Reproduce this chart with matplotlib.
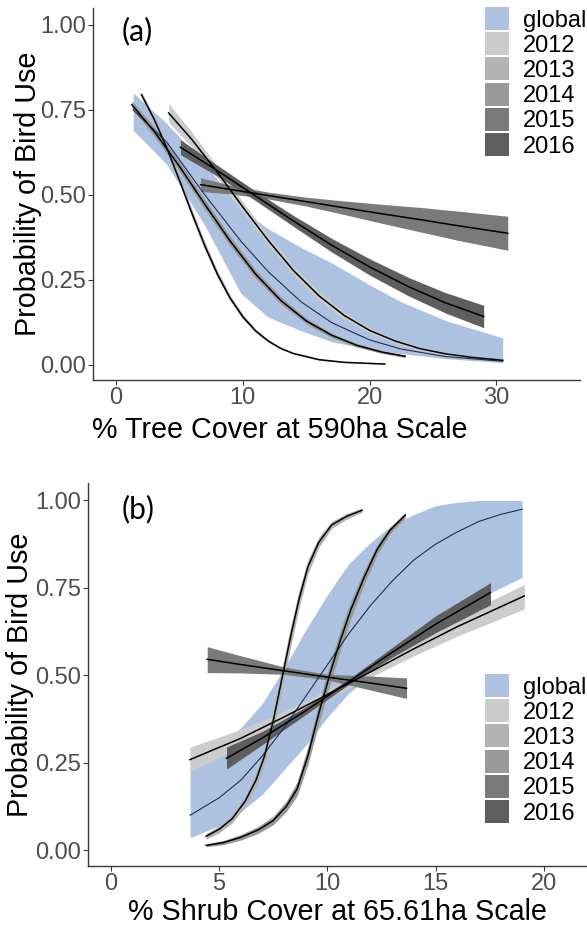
import matplotlib
matplotlib.use("Agg")
import matplotlib.pyplot as plt
from matplotlib.patches import Patch
from matplotlib.ticker import FormatStrFormatter

plt.rcParams["font.family"] = ["Liberation Sans", "DejaVu Sans"]

GROUPS = ["global", "2012", "2013", "2014", "2015", "2016"]
FILLS = {"global": "#adc2e1", "2012": "#cccccc", "2013": "#b3b3b3",
         "2014": "#999999", "2015": "#7a7a7a", "2016": "#5e5e5e"}

# ---- (a) % tree cover at 590 ha ----
tree_global_x = [1.35, 4, 7, 9.84, 12, 14.6, 17, 20, 22.5, 26, 30.5]
tree_global_fit = [0.750, 0.655, 0.500, 0.364, 0.274, 0.185, 0.124, 0.073, 0.046, 0.024, 0.010]
tree_global_lo = [0.69, 0.59, 0.41, 0.21, 0.14, 0.10, 0.068, 0.045, 0.033, 0.018, 0.006]
tree_global_hi = [0.80, 0.71, 0.59, 0.46, 0.40, 0.345, 0.30, 0.235, 0.185, 0.13, 0.079]

tree_2012_x = [4.15, 6, 8, 10, 12, 14, 16, 18, 20, 22, 24, 26, 28, 30.5]
tree_2012_fit = [0.741, 0.662, 0.566, 0.464, 0.366, 0.277, 0.203, 0.145, 0.101, 0.070, 0.047, 0.032, 0.022, 0.013]
tree_2012_lo = [0.713, 0.640, 0.549, 0.449, 0.352, 0.264, 0.191, 0.135, 0.093, 0.064, 0.042, 0.028, 0.019, 0.010]
tree_2012_hi = [0.769, 0.684, 0.583, 0.479, 0.380, 0.290, 0.215, 0.155, 0.109, 0.076, 0.052, 0.036, 0.025, 0.016]

tree_2013_x = [2.0, 3, 4, 5, 6, 7, 8, 9, 10, 11, 12, 13, 14, 16, 18, 21.2]
tree_2013_fit = [0.795, 0.723, 0.638, 0.543, 0.444, 0.350, 0.266, 0.196, 0.141, 0.100, 0.070, 0.048, 0.033, 0.015, 0.007, 0.002]
tree_2013_lo = [0.787, 0.713, 0.626, 0.531, 0.432, 0.338, 0.256, 0.188, 0.134, 0.095, 0.066, 0.045, 0.031, 0.013, 0.006, 0.001]
tree_2013_hi = [0.803, 0.733, 0.650, 0.555, 0.456, 0.362, 0.276, 0.204, 0.148, 0.105, 0.074, 0.051, 0.035, 0.017, 0.008, 0.003]

tree_2014_x = [1.25, 3, 5, 7, 9, 11, 13, 15, 17, 19, 21, 22.8]
tree_2014_fit = [0.765, 0.687, 0.584, 0.472, 0.364, 0.267, 0.189, 0.129, 0.087, 0.057, 0.037, 0.025]
tree_2014_lo = [0.753, 0.673, 0.569, 0.457, 0.350, 0.255, 0.179, 0.121, 0.080, 0.052, 0.033, 0.021]
tree_2014_hi = [0.777, 0.701, 0.599, 0.487, 0.378, 0.279, 0.199, 0.137, 0.093, 0.062, 0.041, 0.029]

tree_2015_x = [6.67, 9, 12, 15, 18, 21, 24, 27, 30.9]
tree_2015_fit = [0.530, 0.516, 0.498, 0.480, 0.462, 0.444, 0.427, 0.409, 0.387]
tree_2015_lo = [0.510, 0.503, 0.488, 0.467, 0.442, 0.416, 0.391, 0.366, 0.337]
tree_2015_hi = [0.550, 0.529, 0.508, 0.493, 0.482, 0.472, 0.463, 0.452, 0.437]

tree_2016_x = [5.08, 8, 11, 14, 17, 20, 23, 26, 29.0]
tree_2016_fit = [0.640, 0.571, 0.497, 0.423, 0.352, 0.288, 0.231, 0.182, 0.142]
tree_2016_lo = [0.618, 0.555, 0.483, 0.407, 0.332, 0.264, 0.204, 0.152, 0.109]
tree_2016_hi = [0.662, 0.587, 0.511, 0.439, 0.372, 0.312, 0.258, 0.212, 0.175]

# ---- (b) % shrub cover at 65.61 ha ----
shrub_global_x = [3.66, 5, 6, 7, 8, 9, 10, 11, 12, 13, 14, 15, 16, 17, 18, 19]
shrub_global_fit = [0.10, 0.15, 0.20, 0.27, 0.35, 0.44, 0.53, 0.62, 0.70, 0.77, 0.83, 0.875, 0.91, 0.94, 0.96, 0.975]
shrub_global_lo = [0.036, 0.07, 0.11, 0.16, 0.23, 0.30, 0.38, 0.45, 0.50, 0.56, 0.61, 0.66, 0.69, 0.72, 0.75, 0.78]
shrub_global_hi = [0.24, 0.30, 0.35, 0.42, 0.52, 0.63, 0.73, 0.82, 0.88, 0.93, 0.96, 0.985, 0.995, 1.0, 1.0, 1.0]

shrub_2012_x = [3.65, 6, 8, 10, 12, 14, 16, 19.1]
shrub_2012_fit = [0.259, 0.320, 0.381, 0.445, 0.510, 0.576, 0.639, 0.727]
shrub_2012_lo = [0.225, 0.295, 0.365, 0.432, 0.495, 0.556, 0.612, 0.690]
shrub_2012_hi = [0.295, 0.345, 0.397, 0.458, 0.525, 0.596, 0.666, 0.760]

shrub_2013_x = [4.4, 5.0, 5.6, 6.2, 6.7, 7.1, 7.5, 7.9, 8.3, 8.7, 9.1, 9.6, 10.2, 10.9, 11.6]
shrub_2013_fit = [0.040, 0.060, 0.090, 0.140, 0.200, 0.270, 0.370, 0.490, 0.610, 0.720, 0.810, 0.880, 0.930, 0.955, 0.972]
shrub_2013_lo = [0.032, 0.050, 0.078, 0.125, 0.180, 0.245, 0.340, 0.460, 0.580, 0.695, 0.790, 0.865, 0.920, 0.947, 0.966]
shrub_2013_hi = [0.048, 0.070, 0.102, 0.155, 0.220, 0.295, 0.400, 0.520, 0.640, 0.745, 0.830, 0.895, 0.940, 0.963, 0.978]

shrub_2014_x = [4.4, 5.2, 6.0, 6.8, 7.5, 8.1, 8.6, 9.1, 9.6, 10.1, 10.6, 11.1, 11.7, 12.3, 12.9, 13.6]
shrub_2014_fit = [0.014, 0.022, 0.037, 0.058, 0.085, 0.125, 0.175, 0.270, 0.390, 0.500, 0.600, 0.690, 0.780, 0.860, 0.915, 0.958]
shrub_2014_lo = [0.010, 0.016, 0.029, 0.048, 0.073, 0.110, 0.155, 0.245, 0.360, 0.470, 0.570, 0.665, 0.760, 0.845, 0.905, 0.950]
shrub_2014_hi = [0.018, 0.028, 0.045, 0.068, 0.097, 0.140, 0.195, 0.295, 0.420, 0.530, 0.630, 0.715, 0.800, 0.875, 0.925, 0.966]

shrub_2015_x = [4.45, 6, 8, 10, 12, 13.66]
shrub_2015_fit = [0.546, 0.531, 0.513, 0.495, 0.478, 0.463]
shrub_2015_lo = [0.508, 0.507, 0.503, 0.487, 0.458, 0.434]
shrub_2015_hi = [0.582, 0.556, 0.524, 0.503, 0.498, 0.493]

shrub_2016_x = [5.34, 7, 9, 11, 13, 15, 17.54]
shrub_2016_fit = [0.263, 0.321, 0.399, 0.482, 0.566, 0.646, 0.737]
shrub_2016_lo = [0.232, 0.302, 0.388, 0.474, 0.552, 0.622, 0.702]
shrub_2016_hi = [0.295, 0.340, 0.410, 0.490, 0.580, 0.670, 0.765]

tree_curves = {
    "global": (tree_global_x, tree_global_fit, tree_global_lo, tree_global_hi),
    "2012": (tree_2012_x, tree_2012_fit, tree_2012_lo, tree_2012_hi),
    "2013": (tree_2013_x, tree_2013_fit, tree_2013_lo, tree_2013_hi),
    "2014": (tree_2014_x, tree_2014_fit, tree_2014_lo, tree_2014_hi),
    "2015": (tree_2015_x, tree_2015_fit, tree_2015_lo, tree_2015_hi),
    "2016": (tree_2016_x, tree_2016_fit, tree_2016_lo, tree_2016_hi),
}
shrub_curves = {
    "global": (shrub_global_x, shrub_global_fit, shrub_global_lo, shrub_global_hi),
    "2012": (shrub_2012_x, shrub_2012_fit, shrub_2012_lo, shrub_2012_hi),
    "2013": (shrub_2013_x, shrub_2013_fit, shrub_2013_lo, shrub_2013_hi),
    "2014": (shrub_2014_x, shrub_2014_fit, shrub_2014_lo, shrub_2014_hi),
    "2015": (shrub_2015_x, shrub_2015_fit, shrub_2015_lo, shrub_2015_hi),
    "2016": (shrub_2016_x, shrub_2016_fit, shrub_2016_lo, shrub_2016_hi),
}

AXIS_COL = "#3a3a3a"
TICK_TXT = "#4d4d4d"


def draw_panel(ax, curves, xticks, xlim, xlabel, tag, leg_anchor, fig):
    for g in GROUPS:
        x, fit, lo, hi = curves[g]
        ax.fill_between(x, lo, hi, color=FILLS[g], lw=0, zorder=1 if g == "global" else 2)
    for g in GROUPS:
        x, fit, lo, hi = curves[g]
        if g == "global":
            ax.plot(x, fit, color="#1f3050", lw=0.8, zorder=3)
        else:
            ax.plot(x, fit, color="black", lw=1.1, zorder=3)

    ax.set_xlim(*xlim)
    ax.set_ylim(-0.045, 1.05)
    ax.set_xticks(xticks)
    ax.set_yticks([0, 0.25, 0.5, 0.75, 1.0])
    ax.yaxis.set_major_formatter(FormatStrFormatter("%.2f"))
    for s in ("top", "right"):
        ax.spines[s].set_visible(False)
    for s in ("left", "bottom"):
        ax.spines[s].set_color(AXIS_COL)
        ax.spines[s].set_linewidth(1.0)
    ax.tick_params(length=3.6, width=0.8, color=AXIS_COL, labelcolor=TICK_TXT,
                   labelsize=17, pad=1.5)
    ax.set_ylabel("Probability of Bird Use", fontsize=20.7, color="black")
    ax.set_xlabel(xlabel, fontsize=20.7, color="black")

    ax.text(tag[1], tag[2], tag[0], transform=ax.transAxes, ha="left", va="center",
            fontsize=21.5, family="Lato")

    handles = [Patch(facecolor=FILLS[g], edgecolor="none", label=g) for g in GROUPS]
    ax.legend(handles=handles, loc="upper left", bbox_to_anchor=leg_anchor,
              bbox_transform=fig.transFigure, frameon=False, fontsize=17,
              handlelength=1.0, handleheight=1.12, handletextpad=0.6,
              labelspacing=0.03, borderpad=0, borderaxespad=0)


W, H = 587, 925
fig = plt.figure(figsize=(W / 100, H / 100), dpi=100)

ax_a = fig.add_axes([93 / W, 1 - 380 / H, (580 - 93) / W, (380 - 8) / H])
draw_panel(ax_a, tree_curves, [0, 10, 20, 30], (-1.82, 36.6),
           "% Tree Cover at 590ha Scale", ("(a)", 0.0595, 0.938),
           (485 / W, 1 - 7 / H), fig)
ax_a.yaxis.set_label_coords(-0.105, 0.5)
ax_a.xaxis.set_label_coords(0.384, -0.098)

ax_b = fig.add_axes([88 / W, 1 - 866 / H, (587 - 88) / W, (866 - 483) / H])
draw_panel(ax_b, shrub_curves, [0, 5, 10, 15, 20], (-1.06, 22.0),
           "% Shrub Cover at 65.61ha Scale", ("(b)", 0.068, 0.932),
           (485 / W, 1 - 674 / H), fig)
ax_b.yaxis.set_label_coords(-0.108, 0.5)
ax_b.xaxis.set_label_coords(0.5, -0.084)

fig.savefig("out.png", dpi=100)
